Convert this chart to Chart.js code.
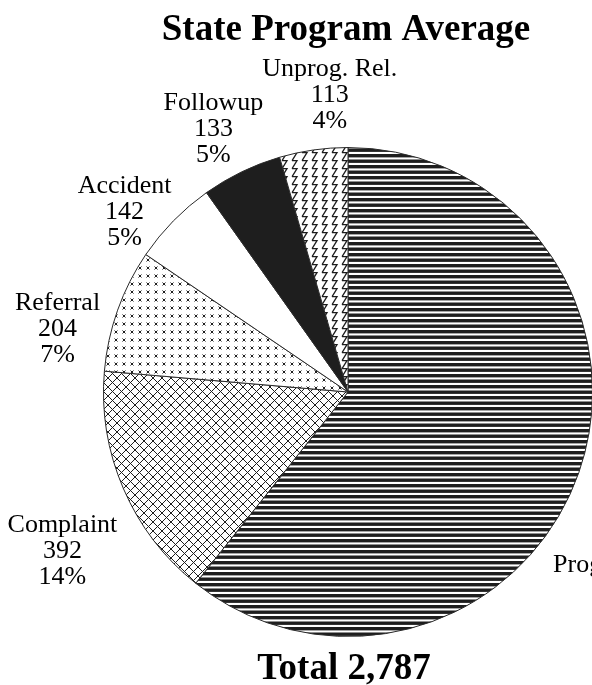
<!DOCTYPE html>
<html>
<head>
<meta charset="utf-8">
<script src="https://cdn.jsdelivr.net/npm/chart.js@4"></script>
<style>
  html, body { margin: 0; padding: 0; background: #fff; overflow: hidden; }
  #wrap { width: 620px; height: 685px; }
</style>
</head>
<body>
<div id="wrap"><canvas id="pie" width="620" height="685"></canvas></div>
<script>
// Data, clockwise from 12 o'clock
const chartTitle = 'State Program Average';
const categories = ['Programmed', 'Complaint', 'Referral', 'Accident', 'Followup', 'Unprog. Rel.'];
// Programmed label is cut off in the source, its count is estimated from the size of its slice
const counts = [1520, 392, 204, 142, 133, 113];
const total = 2787;

// Label placement: angle (deg, clockwise from top) and gap beyond the pie edge (px)
const labelAngles = [126, -119, -77.5, -51, -27, -3.5];
const labelGaps = [92, 82, 53, 43, 52, 54];

const ink = '#1e1e1e';

// Build a repeating fill from a small tile
function makePattern(w, h, draw) {
    const tile = document.createElement('canvas');
    tile.width = w;
    tile.height = h;
    const g = tile.getContext('2d');
    g.fillStyle = '#fff';
    g.fillRect(0, 0, w, h);
    g.fillStyle = ink;
    g.strokeStyle = ink;
    draw(g);
    return document.getElementById('pie').getContext('2d').createPattern(tile, 'repeat');
}

// Programmed: horizontal stripes
const stripes = makePattern(4, 11, g => {
    g.fillRect(0, 0, 4, 3.4);
    g.fillRect(0, 5.5, 4, 3.4);
});

// Complaint: diagonal crosshatch
const crosshatch = makePattern(9, 9, g => {
    g.lineWidth = 1;
    g.beginPath();
    [-9, 0, 9].forEach(o => {
        g.moveTo(o, 0); g.lineTo(o + 9, 9);
        g.moveTo(o + 9, 0); g.lineTo(o, 9);
    });
    g.stroke();
});

// Referral: small x marks
const crosses = makePattern(8, 8, g => {
    g.lineWidth = 1;
    g.beginPath();
    g.moveTo(2.5, 2.5); g.lineTo(5.5, 5.5);
    g.moveTo(5.5, 2.5); g.lineTo(2.5, 5.5);
    g.stroke();
});

// Unprog. Rel.: vertical zigzag
const zigzag = makePattern(10, 8, g => {
    g.lineWidth = 1.3;
    g.beginPath();
    [-8, 0, 8].forEach(o => {
        g.moveTo(2, 0.7 + o);
        g.lineTo(7, 0.7 + o);
        g.lineTo(2, 8.7 + o);
    });
    g.stroke();
});

const fills = [stripes, crosshatch, crosses, '#ffffff', ink, zigzag];

// Title, total and slice labels
const textPlugin = {
    id: 'textPlugin',
    afterDraw(chart) {
        const ctx = chart.ctx;
        const arc = chart.getDatasetMeta(0).data[0];
        const cx = arc.x, cy = arc.y, r = arc.outerRadius;
        ctx.save();
        ctx.fillStyle = '#000';
        ctx.textAlign = 'center';
        ctx.textBaseline = 'alphabetic';

        ctx.font = 'bold 37px "Liberation Serif", "Times New Roman", serif';
        ctx.fillText(chartTitle, cx - 2, 40);
        ctx.fillText('Total ' + total.toLocaleString('en-US'), cx - 4, 679);

        ctx.font = '26px "Liberation Serif", "Times New Roman", serif';
        categories.forEach((name, i) => {
            const a = labelAngles[i] * Math.PI / 180;
            const d = r + labelGaps[i];
            const x = cx + d * Math.sin(a);
            const y = cy - d * Math.cos(a);
            const lines = [
                name,
                counts[i].toLocaleString('en-US'),
                Math.round(counts[i] / total * 100) + '%'
            ];
            lines.forEach((t, k) => ctx.fillText(t, x, y + 8 + (k - 1) * 26));
        });
        ctx.restore();
    }
};

document.addEventListener('DOMContentLoaded', function() {
    new Chart(document.getElementById('pie'), {
        type: 'pie',
        data: {
            labels: categories,
            datasets: [{
                data: counts,
                backgroundColor: fills,
                borderColor: '#2a2a2a',
                borderWidth: 1
            }]
        },
        options: {
            responsive: false,
            animation: false,
            layout: { padding: { left: 103, right: 27, top: 147, bottom: 48 } },
            plugins: {
                legend: { display: false },
                tooltip: { enabled: false }
            }
        },
        plugins: [textPlugin]
    });
});
</script>
</body>
</html>
